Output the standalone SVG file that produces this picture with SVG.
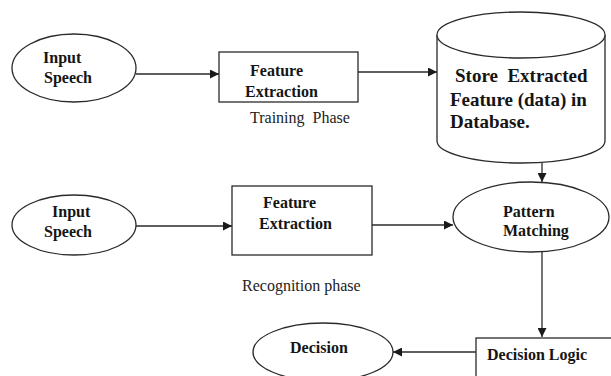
<svg xmlns="http://www.w3.org/2000/svg" width="611" height="376" viewBox="0 0 611 376">
  <style>
    .shape { fill: #ffffff; stroke: #2a2a2a; stroke-width: 1.3; }
    .edge { fill: none; stroke: #2a2a2a; stroke-width: 1.3; marker-end: url(#arrow); }
    .lbl { font-weight: bold; font-size: 16px; fill: #151515; }
    .big { font-size: 19px; }
    .note { font-size: 16px; fill: #222222; }
  </style>
  <defs>
    <marker id="arrow" viewBox="0 0 10 10" refX="10" refY="5" markerWidth="9" markerHeight="9" markerUnits="userSpaceOnUse" orient="auto">
      <path d="M0,0 L10,5 L0,10 z" fill="#1a1a1a"/>
    </marker>
  </defs>
  <rect width="611" height="376" fill="#ffffff"/>

  <g font-family="Liberation Serif, Times New Roman, serif">
    <!-- Training phase -->
    <g id="input-speech-train">
      <ellipse class="shape" cx="74" cy="68" rx="62" ry="34"/>
      <text class="lbl" x="43" y="63">Input</text>
      <text class="lbl" x="44" y="83">Speech</text>
    </g>
    <g id="feature-extraction-train">
      <rect class="shape" x="219" y="52" width="139" height="50"/>
      <text class="lbl" x="250" y="76">Feature</text>
      <text class="lbl" x="245" y="97">Extraction</text>
    </g>
    <text class="note" x="250" y="123" xml:space="preserve">Training  Phase</text>

    <g id="feature-store">
      <path class="shape" d="M437,35 L437,141 A84,22 0 0 0 605,141 L605,35"/>
      <ellipse class="shape" cx="521" cy="35" rx="84" ry="23"/>
      <text class="lbl big" x="455" y="82" xml:space="preserve">Store  Extracted</text>
      <text class="lbl big" x="450" y="106">Feature (data) in</text>
      <text class="lbl big" x="450" y="128">Database.</text>
    </g>

    <!-- Recognition phase -->
    <g id="input-speech-recog">
      <ellipse class="shape" cx="74" cy="225" rx="62" ry="30"/>
      <text class="lbl" x="52" y="217">Input</text>
      <text class="lbl" x="44" y="237">Speech</text>
    </g>
    <g id="feature-extraction-recog">
      <rect class="shape" x="232" y="186" width="140" height="69"/>
      <text class="lbl" x="263" y="208">Feature</text>
      <text class="lbl" x="259" y="229">Extraction</text>
    </g>
    <text class="note" x="242" y="291">Recognition phase</text>

    <g id="pattern-matching">
      <ellipse class="shape" cx="531" cy="217" rx="78" ry="35"/>
      <text class="lbl" x="503" y="217">Pattern</text>
      <text class="lbl" x="503" y="236">Matching</text>
    </g>
    <g id="decision-logic">
      <rect class="shape" x="476" y="338" width="150" height="50"/>
      <text class="lbl" x="487" y="360">Decision Logic</text>
    </g>
    <g id="decision">
      <ellipse class="shape" cx="323" cy="352" rx="70" ry="29"/>
      <text class="lbl" x="290" y="353">Decision</text>
    </g>
  </g>

  <g id="connectors">
    <line class="edge" x1="136" y1="74" x2="219" y2="74"/>
    <line class="edge" x1="358" y1="72" x2="437" y2="72"/>
    <line class="edge" x1="542" y1="163" x2="542" y2="182"/>
    <line class="edge" x1="136" y1="226" x2="232" y2="226"/>
    <line class="edge" x1="372" y1="225" x2="453" y2="225"/>
    <line class="edge" x1="542" y1="252" x2="542" y2="337"/>
    <line class="edge" x1="476" y1="352" x2="393" y2="352"/>
  </g>
</svg>
